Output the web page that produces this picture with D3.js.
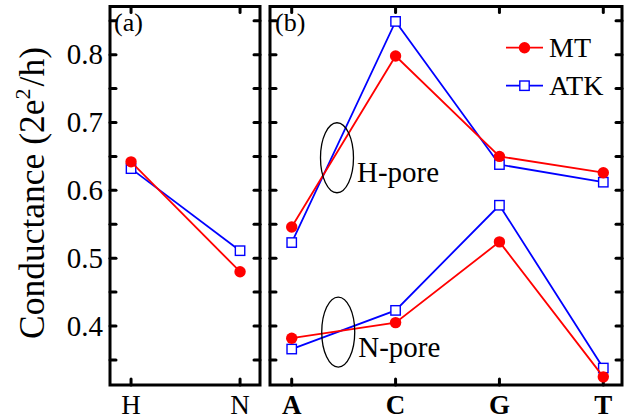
<!DOCTYPE html>
<html>
<head>
<meta charset="utf-8">
<script src="https://cdn.jsdelivr.net/npm/d3@7"></script>
<style>
  html, body { margin: 0; padding: 0; background: #fff; }
  svg { display: block; }
</style>
</head>
<body>
<svg id="chart" width="624" height="419" font-family="Liberation Serif"></svg>
<script>
// ---------------- data ----------------
const categoriesA = ["H", "N"];
const mtA  = [0.642, 0.480];
const atkA = [0.632, 0.511];

const categoriesB = ["A", "C", "G", "T"];
const mtHpore  = [0.546, 0.798, 0.650, 0.626];
const atkHpore = [0.523, 0.849, 0.638, 0.612];
const mtNpore  = [0.382, 0.405, 0.524, 0.325];
const atkNpore = [0.366, 0.423, 0.578, 0.338];

const yTicks      = [0.4, 0.5, 0.6, 0.7, 0.8];
const yMinorTicks = [0.35, 0.45, 0.55, 0.65, 0.75, 0.85];
const seriesNames = ["MT", "ATK"];
const poreLabels  = ["H-pore", "N-pore"];
const poreAnchors = [[0.436, 0.648], [0.448, 0.391]]; // data coords (category index, conductance)

// ---------------- layout ----------------
const FONT = "Liberation Serif";
const svg = d3.select("#chart");
const yTop = 6.5, yBottom = 385;
const y = d3.scaleLinear().domain([0.313, 0.871]).range([yBottom, yTop]);
const xA = d3.scaleLinear().domain([-0.193, 1.183]).range([110, 260]);
const xB = d3.scaleLinear().domain([-0.209, 3.18]).range([270, 622]);

const RED = "#ff0000", BLUE = "#0000ff";

function frame(x) {
  const [x0, x1] = x.range();
  const g = svg.append("g");
  const allY = yTicks.concat(yMinorTicks);
  const tl = 6;
  allY.forEach(v => {
    g.append("line").attr("x1", x0).attr("x2", x0 + tl).attr("y1", y(v)).attr("y2", y(v));
    g.append("line").attr("x1", x1).attr("x2", x1 - tl).attr("y1", y(v)).attr("y2", y(v));
  });
  g.selectAll("line").attr("stroke", "#000").attr("stroke-width", 3).attr("stroke-linecap", "round");
  g.append("rect").attr("x", x0).attr("y", yTop).attr("width", x1 - x0).attr("height", yBottom - yTop)
    .attr("fill", "none").attr("stroke", "#000").attr("stroke-width", 3);
  return g;
}

function xTicks(g, x, cats) {
  cats.forEach((c, i) => {
    g.append("line").attr("class", "xt").attr("x1", x(i)).attr("x2", x(i)).attr("y1", yTop).attr("y2", yTop + 6);
    g.append("line").attr("class", "xt").attr("x1", x(i)).attr("x2", x(i)).attr("y1", yBottom).attr("y2", yBottom - 6);
  });
  g.selectAll("line.xt").attr("stroke", "#000").attr("stroke-width", 3).attr("stroke-linecap", "round");
}

function drawSeries(x, vals, color, kind) {
  const line = d3.line().x((d, i) => x(i)).y(d => y(d));
  svg.append("path").datum(vals).attr("d", line)
    .attr("fill", "none").attr("stroke", color).attr("stroke-width", 1.8);
  if (kind === "circle") {
    svg.append("g").selectAll("circle").data(vals).join("circle")
      .attr("cx", (d, i) => x(i)).attr("cy", d => y(d)).attr("r", 5.7).attr("fill", color);
  } else {
    const s = 9.4;
    svg.append("g").selectAll("rect").data(vals).join("rect")
      .attr("x", (d, i) => x(i) - s / 2).attr("y", d => y(d) - s / 2)
      .attr("width", s).attr("height", s)
      .attr("fill", "#fff").attr("stroke", color).attr("stroke-width", 1.4);
  }
}

function txt(sel, size) {
  return sel.attr("font-family", FONT).attr("font-size", size).attr("fill", "#000");
}

const gA = frame(xA);
xTicks(gA, xA, categoriesA);
const gB = frame(xB);
xTicks(gB, xB, categoriesB);

// y tick labels
const yAxis = d3.axisLeft(y).tickValues(yTicks).tickFormat(d3.format(".1f")).tickSize(0).tickPadding(7);
const ya = svg.append("g").attr("transform", "translate(110,0)").call(yAxis);
ya.attr("font-family", FONT).attr("font-size", 29);
ya.select(".domain").remove();
txt(ya.selectAll("text"), 29);

// x tick labels
txt(svg.append("g").selectAll("text").data(categoriesA).join("text")
  .attr("x", (d, i) => xA(i)).attr("y", 413.5).attr("text-anchor", "middle"), 27).text(d => d);
txt(svg.append("g").selectAll("text").data(categoriesB).join("text")
  .attr("x", (d, i) => xB(i)).attr("y", 413.5).attr("text-anchor", "middle"), 27)
  .attr("font-weight", "bold").text(d => d);

// series
drawSeries(xA, atkA, BLUE, "square");
drawSeries(xA, mtA, RED, "circle");
drawSeries(xB, atkHpore, BLUE, "square");
drawSeries(xB, mtHpore, RED, "circle");
drawSeries(xB, atkNpore, BLUE, "square");
drawSeries(xB, mtNpore, RED, "circle");

// annotations
poreAnchors.forEach((p, i) => {
  const cx = xB(p[0]), cy = y(p[1]);
  svg.append("ellipse").attr("cx", cx).attr("cy", cy).attr("rx", 16.5).attr("ry", 35)
    .attr("fill", "none").attr("stroke", "#000").attr("stroke-width", 1.3);
  txt(svg.append("text").attr("x", cx + 20).attr("y", cy + 24.5), 29).text(poreLabels[i]);
});

// panel labels
txt(svg.append("text").attr("x", 114).attr("y", 31), 26).text("(a)");
txt(svg.append("text").attr("x", 275).attr("y", 31), 26).text("(b)");

// legend
const legend = svg.append("g");
const legY = [47.7, 85.7];
seriesNames.forEach((name, i) => {
  const color = i === 0 ? RED : BLUE;
  const ly = legY[i];
  legend.append("line").attr("x1", 506).attr("x2", 543).attr("y1", ly).attr("y2", ly)
    .attr("stroke", color).attr("stroke-width", 1.8);
  if (i === 0) {
    legend.append("circle").attr("cx", 524.5).attr("cy", ly).attr("r", 5.7).attr("fill", color);
  } else {
    legend.append("rect").attr("x", 524.5 - 4.7).attr("y", ly - 4.7).attr("width", 9.4).attr("height", 9.4)
      .attr("fill", "#fff").attr("stroke", color).attr("stroke-width", 1.4);
  }
  txt(legend.append("text").attr("x", 549).attr("y", ly + 9.5), 28).text(name);
});

// y axis title
const yt = txt(svg.append("text").attr("transform", "translate(43.5,193) rotate(-90)")
  .attr("text-anchor", "middle"), 35.5);
yt.append("tspan").text("Conductance (2e");
yt.append("tspan").attr("dy", -14).attr("font-size", 22).text("2");
yt.append("tspan").attr("dy", 14).attr("dx", 2).text("/h)");
</script>
</body>
</html>
